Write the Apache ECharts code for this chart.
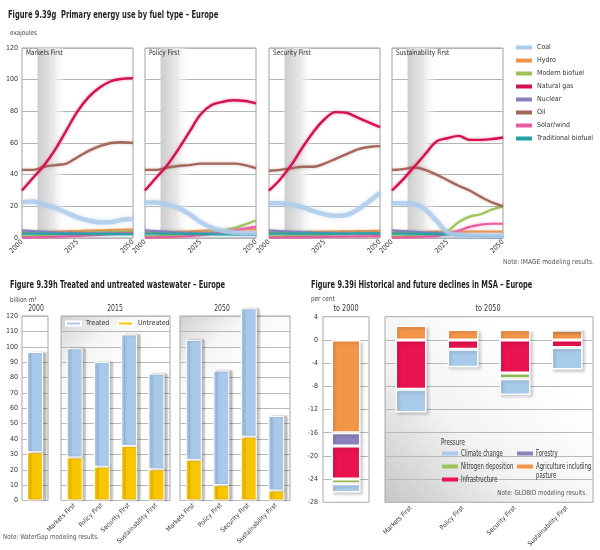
<!DOCTYPE html>
<html><head><meta charset="utf-8">
<script src="https://cdn.jsdelivr.net/npm/echarts@6/dist/echarts.min.js"></script>
<style>html,body{margin:0;padding:0;background:#fff}#c{width:600px;height:550px}</style>
</head><body><div id="c"></div>
<script>
// ---------- Figure 9.39g data (exajoules) ----------
const years = [2000,2005,2010,2015,2020,2025,2030,2035,2040,2045,2050];
const yearTicks = [2000, 2025, 2050];
const fuels = ['Coal','Hydro','Modern biofuel','Natural gas','Nuclear','Oil','Solar/wind','Traditional biofuel'];
const scenarios = ['Markets First','Policy First','Security First','Sustainability First'];

const marketsCoal    = [22.5,23,21,19,16,13,11,10,10,11.5,12];
const marketsHydro   = [3.5,3.6,3.8,4,4.2,4.4,4.6,4.8,5,5.2,5.3];
const marketsModBio  = [1,1.2,1.5,2,2.5,3,3.3,3.6,3.8,4,4.2];
const marketsGas     = [30,38,46,56,68,80,89,95,99,100.5,101];
const marketsNuclear = [4.8,4.4,4,3.6,3.3,3.1,3,3,3,3,3];
const marketsOil     = [43,43,45,46,47,51,55,58,60,60.5,60];
const marketsSolar   = [0.2,0.3,0.5,0.7,1,1.3,1.6,2,2.4,2.8,3.2];
const marketsTradBio = [2.8,2.8,2.7,2.7,2.6,2.6,2.5,2.5,2.4,2.4,2.4];

const policyCoal    = [22.5,22.5,21,19,15,10,6.5,4.5,3.5,3,3];
const policyHydro   = [3.5,3.6,3.8,4,4.2,4.5,4.8,5,5.2,5.4,5.5];
const policyModBio  = [1,1.2,1.5,2,2.5,3,3.6,4.6,6.2,8.5,11];
const policyGas     = [30,38,46,56,67,78,84,86,87,86.5,85];
const policyNuclear = [4.8,4.4,4,3.6,3.3,3,2.8,2.6,2.5,2.4,2.3];
const policyOil     = [43,43,44.5,45.5,46,47,47,47,47,46,44];
const policySolar   = [0.2,0.3,0.5,0.8,1.2,1.8,2.6,3.6,4.8,6,7];
const policyTradBio = [2.8,2.8,2.7,2.7,2.6,2.5,2.4,2.3,2.2,2.1,2];

const securityCoal    = [22,22,21,19.5,17,15,14,14.5,18,23,28.5];
const securityHydro   = [3.5,3.6,3.7,3.8,3.9,4,4.1,4.2,4.3,4.4,4.5];
const securityModBio  = [1,1.1,1.3,1.5,1.7,2,2.2,2.4,2.6,2.8,3];
const securityGas     = [30,37,46,57,67,75,79.5,79,76,73,70];
const securityNuclear = [4.8,4.4,4,3.7,3.4,3.2,3,2.9,2.8,2.7,2.6];
const securityOil     = [42.5,43,44,45,45,47,50,53,56,57.5,58];
const securitySolar   = [0.2,0.3,0.4,0.5,0.6,0.7,0.8,0.9,1,1.1,1.2];
const securityTradBio = [2.8,2.8,2.8,2.8,2.8,2.8,2.8,2.8,2.9,2.9,3];

const sustainCoal    = [22,22,21.5,18,11,3.5,2,1.5,1.5,1.5,1.5];
const sustainHydro   = [3.5,3.6,3.7,3.8,4,4,4,4,4,4,4];
const sustainModBio  = [1,1.2,1.5,2,2.5,4.5,10,13.5,15,18,20];
const sustainGas     = [30,37,45,53,61,63,64.5,62,62,62.5,63.5];
const sustainNuclear = [4.8,4.4,4,3.6,3.2,2.5,1.8,1.2,0.8,0.5,0.3];
const sustainOil     = [43,43.5,44.5,43,40,36.5,33,30,26,22.5,20];
const sustainSolar   = [0.2,0.3,0.5,0.8,1.2,2.5,4.5,7,8.5,9,9];
const sustainTradBio = [2.8,2.8,2.7,2.6,2.5,2.2,1.8,1.5,1.2,1,1];

// ---------- Figure 9.39h data (billion m3) ----------
const wwScenarios = ['Markets First','Policy First','Security First','Sustainability First'];
const ww2000Treated   = [65.1];
const ww2000Untreated = [31.4];
const ww2015Treated   = [71,68,72.5,62.2];
const ww2015Untreated = [28,22,35.5,20.3];
const ww2050Treated   = [78,74.5,83.5,48.5];
const ww2050Untreated = [26.5,10,41.5,6.5];

// ---------- Figure 9.39i data (per cent) ----------
const msaPressures = ['Agriculture including pasture','Forestry','Infrastructure','Nitrogen deposition','Climate change'];
const msa2000Agri = [-16];
const msa2000Forest = [-2.3];
const msa2000Infra = [-5.7];
const msa2000Nitro = [-0.8];
const msa2000Climate = [-1.5];
const msa2050Agri = [2.5,1.8,1.8,1.6];
const msa2050Forest = [null,null,null,null];
const msa2050Infra = [-8.5,-1.6,-5.7,-1.3];
const msa2050Nitro = [null,null,-1.0,0.4];
const msa2050Climate = [-4.0,-3.1,-2.8,-3.8];

// ---------- styling ----------
const FONT = '"Liberation Sans Narrow","DejaVu Sans Condensed","Liberation Sans",sans-serif';
const TXT = '#231f20';
const fuelColors = {
  'Coal':'#adcbea','Hydro':'#f0924a','Modern biofuel':'#9bc25b','Natural gas':'#d5114e',
  'Nuclear':'#8781bd','Oil':'#a3685b','Solar/wind':'#ec5aa2','Traditional biofuel':'#23a3a6'
};
const wwColors = {Treated:'#a9c9ea', Untreated:'#f9c600'};
const msaColors = {
  'Agriculture including pasture':'#f4964a','Forestry':'#8a82bd','Infrastructure':'#e8134f',
  'Nitrogen deposition':'#9cc25a','Climate change':'#a9cbeb'
};

const scenarioData = [
  {Coal:marketsCoal,Hydro:marketsHydro,'Modern biofuel':marketsModBio,'Natural gas':marketsGas,Nuclear:marketsNuclear,Oil:marketsOil,'Solar/wind':marketsSolar,'Traditional biofuel':marketsTradBio},
  {Coal:policyCoal,Hydro:policyHydro,'Modern biofuel':policyModBio,'Natural gas':policyGas,Nuclear:policyNuclear,Oil:policyOil,'Solar/wind':policySolar,'Traditional biofuel':policyTradBio},
  {Coal:securityCoal,Hydro:securityHydro,'Modern biofuel':securityModBio,'Natural gas':securityGas,Nuclear:securityNuclear,Oil:securityOil,'Solar/wind':securitySolar,'Traditional biofuel':securityTradBio},
  {Coal:sustainCoal,Hydro:sustainHydro,'Modern biofuel':sustainModBio,'Natural gas':sustainGas,Nuclear:sustainNuclear,Oil:sustainOil,'Solar/wind':sustainSolar,'Traditional biofuel':sustainTradBio}
];

function hexA(hex, a){
  const n = parseInt(hex.slice(1),16);
  return 'rgba('+((n>>16)&255)+','+((n>>8)&255)+','+(n&255)+','+a+')';
}

const grid = [], xAxis = [], yAxis = [], series = [];
const axisLbl = {fontSize:7, color:'#333', fontFamily:FONT};

// top panels
const topLefts = [22,145,269,392];
topLefts.forEach((l,i)=>{
  grid.push({left:l, top:48, width:111, height:190, show:true, borderColor:'#a0a0a0', borderWidth:1, backgroundColor:'#fff'});
  xAxis.push({type:'value', gridIndex:i, min:2000, max:2050, interval:25,
    axisLine:{show:false}, axisTick:{show:false}, splitLine:{show:false},
    axisLabel:{rotate:45, margin:3, ...axisLbl, formatter:v=>String(v)}});
  yAxis.push({type:'value', gridIndex:i, min:0, max:120, interval:20,
    axisLine:{show:false}, axisTick:{show:false},
    splitLine:{lineStyle:{color:'#b4b4b4', width:1}},
    axisLabel:{show:i===0, margin:4, ...axisLbl}});
  // grey projection band (background)
  series.push({type:'line', name:'band'+i, xAxisIndex:i, yAxisIndex:i, data:[], z:1, silent:true,
    markArea:{silent:true, itemStyle:{color:{type:'linear',x:0,y:0,x2:1,y2:0,
      colorStops:[{offset:0,color:'#cdcdcd'},{offset:0.55,color:'#e8e8e8'},{offset:1,color:'rgba(255,255,255,0)'}]}},
      data:[[{xAxis:2007},{xAxis:2020}]]}});
  const order = ['Hydro','Modern biofuel','Nuclear','Solar/wind','Traditional biofuel','Coal','Oil','Natural gas'];
  order.forEach((f,k)=>{
    const c = fuelColors[f];
    const isCoal = f==='Coal';
    const big = f==='Oil' || f==='Natural gas';
    series.push({type:'line', name:f, xAxisIndex:i, yAxisIndex:i, z:3+k,
      data: years.map((y,j)=>[y, scenarioData[i][f][j]]),
      smooth:0.35, showSymbol:false, symbol:'none', silent:true,
      lineStyle:{color:c, width: isCoal?4.5:(big?2.4:2.2), opacity: isCoal?0.85:1,
        shadowColor: hexA(c, isCoal?0.6:0.45), shadowBlur: isCoal?4:3},
      itemStyle:{color:c}});
  });
});

// wastewater panels
const wwDefs = [
  {left:22, width:26, cats:['2000'], tr:ww2000Treated, un:ww2000Untreated, labels:false, bg:false},
  {left:61, width:109, cats:wwScenarios, tr:ww2015Treated, un:ww2015Untreated, labels:true, bg:true},
  {left:180, width:110, cats:wwScenarios, tr:ww2050Treated, un:ww2050Untreated, labels:true, bg:true}
];
wwDefs.forEach((d,k)=>{
  const gi = grid.length;
  grid.push({left:d.left, top:316, width:d.width, height:184.5, show:true, borderColor:'#a8a8a8', borderWidth:1,
    backgroundColor: d.bg ? {type:'linear',x:0,y:0,x2:0.5,y2:0.35,
      colorStops:[{offset:0,color:'#cfcfcf'},{offset:0.5,color:'#f5f5f5'},{offset:1,color:'#ffffff'}]} : '#fff'});
  xAxis.push({type:'category', gridIndex:gi, data:d.cats, axisLine:{show:false}, axisTick:{show:false},
    axisLabel:{show:d.labels, interval:0, rotate:45, margin:4, fontSize:6.5, color:'#333', fontFamily:FONT}});
  yAxis.push({type:'value', gridIndex:gi, min:0, max:120, interval:10, axisLine:{show:false}, axisTick:{show:false},
    splitLine:{lineStyle:{color:'#b8b8b8'}}, axisLabel:{show:k===0, margin:4, ...axisLbl}});
  const common = {type:'bar', xAxisIndex:gi, yAxisIndex:gi, stack:'ww'+k, barWidth:16, clip:false, silent:true, z:5};
  series.push({...common, name:'Untreated', data:d.un,
    itemStyle:{color:wwColors.Untreated, borderColor:'#fff', borderWidth:1, shadowColor:'rgba(0,0,0,0.25)', shadowBlur:2, shadowOffsetX:3}});
  series.push({...common, name:'Treated', data:d.tr,
    itemStyle:{color:wwColors.Treated, borderColor:'#fff', borderWidth:1, shadowColor:'rgba(0,0,0,0.25)', shadowBlur:2, shadowOffsetX:3}});
});

// MSA panels
const msaDefs = [
  {left:323, width:46, cats:['to 2000'], vals:[msa2000Agri,msa2000Forest,msa2000Infra,msa2000Nitro,msa2000Climate], labels:false, bw:29, bg:false},
  {left:385, width:208, cats:wwScenarios, vals:[msa2050Agri,msa2050Forest,msa2050Infra,msa2050Nitro,msa2050Climate], labels:true, bw:31, bg:true}
];
msaDefs.forEach((d,k)=>{
  const gi = grid.length;
  grid.push({left:d.left, top:316.7, width:d.width, height:185.6, show:true, borderColor:'#a8a8a8', borderWidth:1,
    backgroundColor: d.bg ? {type:'linear',x:0,y:1,x2:0.7,y2:0.2,
      colorStops:[{offset:0,color:'#c6c6c6'},{offset:0.5,color:'#f3f3f3'},{offset:1,color:'#ffffff'}]} : '#fff'});
  xAxis.push({type:'category', gridIndex:gi, data:d.cats, axisLine:{show:false}, axisTick:{show:false},
    axisLabel:{show:d.labels, interval:0, rotate:45, margin:5, fontSize:6.5, color:'#333', fontFamily:FONT}});
  yAxis.push({type:'value', gridIndex:gi, min:-28, max:4, interval:4, axisLine:{show:false}, axisTick:{show:false},
    splitLine:{lineStyle:{color:'#b8b8b8'}}, axisLabel:{show:k===0, margin:5, ...axisLbl}});
  msaPressures.forEach((p,j)=>{
    series.push({type:'bar', name:p, xAxisIndex:gi, yAxisIndex:gi, stack:'msa'+k, barWidth:d.bw, silent:true, z:5,
      data:d.vals[j],
      itemStyle:{color:msaColors[p], borderColor:'#fff', borderWidth:1.5, shadowColor:'rgba(0,0,0,0.18)', shadowBlur:3, shadowOffsetX:2, shadowOffsetY:2}});
  });
});

function txt(x,y,text,size,opts){
  opts = opts||{};
  return {type:'text', x:x, y:y, z:100, silent:true, scaleX: opts.sx||1,
    style:{text:text, fill:opts.color||TXT, fontSize:size, fontFamily:FONT, fontWeight:opts.bold?'bold':'normal',
      align:opts.align||'left', verticalAlign:'middle'}};
}
function swatch(x,y,color){
  return {type:'rect', z:100, silent:true, shape:{x:x, y:y-2, width:16, height:4}, style:{fill:color}};
}

const graphics = [
  txt(8,15,'Figure 9.39g  Primary energy use by fuel type – Europe',10,{bold:true,sx:0.75}),
  txt(10,33,'exajoules',7,{color:'#444',sx:0.9}),
  txt(26,53,'Markets First',7.5,{color:'#333',sx:0.86}),
  txt(149,53,'Policy First',7.5,{color:'#333',sx:0.86}),
  txt(273,53,'Security First',7.5,{color:'#333',sx:0.86}),
  txt(396,53,'Sustainability First',7.5,{color:'#333',sx:0.86}),
  txt(503,262,'Note: IMAGE modeling results.',7,{color:'#555',sx:0.95}),
  txt(10,285,'Figure 9.39h Treated and untreated wastewater – Europe',10,{bold:true,sx:0.74}),
  txt(10,300,'billion m³',7,{color:'#444',sx:0.9}),
  txt(36,309,'2000',8,{align:'center',color:'#333',sx:0.85}),
  txt(115,309,'2015',8,{align:'center',color:'#333',sx:0.85}),
  txt(222,309,'2050',8,{align:'center',color:'#333',sx:0.85}),
  txt(3,537,'Note: WaterGap modeling results.',7,{color:'#555',sx:0.9}),
  txt(311,285,'Figure 9.39i Historical and future declines in MSA – Europe',10,{bold:true,sx:0.74}),
  txt(311,299,'per cent',7,{color:'#444',sx:0.9}),
  txt(346,309,'to 2000',8,{align:'center',color:'#333',sx:0.9}),
  txt(488,309,'to 2050',8,{align:'center',color:'#333',sx:0.9}),
  // MSA legend (pressure key)
  txt(441,443,'Pressure',8,{color:'#333',sx:0.78}),
  swatch(442,453.5,msaColors['Climate change']),
  txt(461,453.5,'Climate change',8,{color:'#333',sx:0.74}),
  swatch(442,466.5,msaColors['Nitrogen deposition']),
  txt(461,466.5,'Nitrogen deposition',8,{color:'#333',sx:0.74}),
  swatch(442,479.5,msaColors['Infrastructure']),
  txt(461,479.5,'Infrastructure',8,{color:'#333',sx:0.74}),
  swatch(517,453.5,msaColors['Forestry']),
  txt(536,453.5,'Forestry',8,{color:'#333',sx:0.74}),
  swatch(517,466.5,msaColors['Agriculture including pasture']),
  txt(536,466.5,'Agriculture including',8,{color:'#333',sx:0.74}),
  txt(536,476,'pasture',8,{color:'#333',sx:0.74}),
  txt(587,493,'Note: GLOBIO modeling results.',7,{align:'right',color:'#555',sx:0.9})
];

const legTxt = {fontSize:7, color:'#333', fontFamily:FONT};
const legend = [
  {orient:'vertical', left:516, top:44, itemWidth:16, itemHeight:4, itemGap:6, icon:'rect', padding:0,
    data:fuels, textStyle:legTxt, selectedMode:false},
  {left:65, top:320, itemWidth:15, itemHeight:4, icon:'rect', padding:0, data:['Treated'], textStyle:legTxt, selectedMode:false},
  {left:117, top:320, itemWidth:15, itemHeight:4, icon:'rect', padding:0, data:['Untreated'], textStyle:legTxt, selectedMode:false}
];

const chart = echarts.init(document.getElementById('c'), null, {renderer:'canvas'});
chart.setOption({
  backgroundColor:'#fff', animation:false,
  textStyle:{fontFamily:FONT},
  grid, xAxis, yAxis, series, legend, graphic:graphics
});
</script></body></html>
